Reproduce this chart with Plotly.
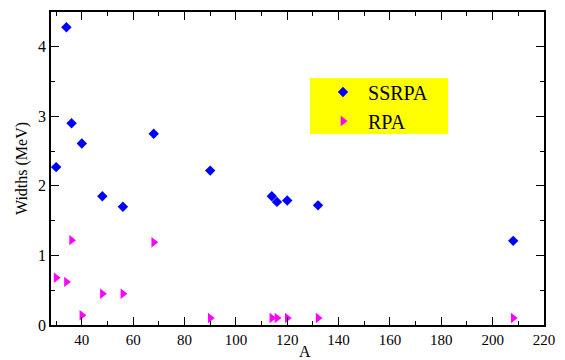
import plotly.graph_objects as go

A_ssrpa = [30, 34, 36, 40, 48, 56, 68, 90, 114, 116, 120, 132, 208]
W_ssrpa = [2.27, 4.28, 2.90, 2.61, 1.85, 1.70, 2.75, 2.22, 1.85, 1.77, 1.79, 1.72, 1.21]

A_rpa = [30, 34, 36, 40, 48, 56, 68, 90, 114, 116, 120, 132, 208]
W_rpa = [0.68, 0.62, 1.22, 0.14, 0.45, 0.45, 1.19, 0.10, 0.10, 0.10, 0.10, 0.10, 0.10]

FONT = "Liberation Serif, Times New Roman, serif"

fig = go.Figure()
fig.add_trace(go.Scatter(x=A_ssrpa, y=W_ssrpa, mode="markers", name="SSRPA",
                         marker=dict(symbol="diamond", size=8, color="#0000ff")))
fig.add_trace(go.Scatter(x=A_rpa, y=W_rpa, mode="markers", name="RPA",
                         marker=dict(symbol="triangle-right", size=9, color="#ff00ff")))

axis_common = dict(showgrid=False, zeroline=False, showline=True, linecolor="black",
                   linewidth=1.5, mirror="allticks", ticks="inside", ticklen=8,
                   tickwidth=1.2, tickcolor="black", automargin=False)

fig.update_xaxes(range=[28, 220], tick0=0, dtick=20,
                 tickfont=dict(family=FONT, size=15, color="black"),
                 minor=dict(dtick=10, tick0=0, ticks="inside", ticklen=4, tickcolor="black", tickwidth=1.2),
                 **axis_common)
fig.update_yaxes(range=[0, 4.5], tick0=0, dtick=1,
                 tickfont=dict(family=FONT, size=16, color="black"),
                 minor=dict(dtick=0.5, tick0=0, ticks="inside", ticklen=4, tickcolor="black", tickwidth=1.2),
                 title=dict(text="Widths (MeV)", font=dict(family=FONT, size=16, color="black"), standoff=6),
                 **axis_common)

# x-axis title
fig.add_annotation(text="A", xref="paper", yref="paper", x=0.515, y=-0.0831,
                   xanchor="center", yanchor="middle", showarrow=False,
                   font=dict(family=FONT, size=16, color="black"))

# yellow legend box
fig.add_shape(type="rect", xref="paper", yref="paper",
              x0=0.5254, x1=0.8053, y0=0.6102, y1=0.7891,
              fillcolor="#ffff00", line=dict(width=0), layer="below")

fig.update_layout(
    width=565, height=360,
    margin=dict(l=51, r=21, t=12, b=35),
    paper_bgcolor="white", plot_bgcolor="white",
    font=dict(family=FONT, color="black"),
    showlegend=True,
    legend=dict(x=0.5416, y=0.698, xanchor="left", yanchor="middle",
                bgcolor="rgba(0,0,0,0)", borderwidth=0,
                font=dict(family=FONT, size=20, color="black"),
                itemwidth=40, tracegroupgap=0),
)

fig.write_html("out.html")
